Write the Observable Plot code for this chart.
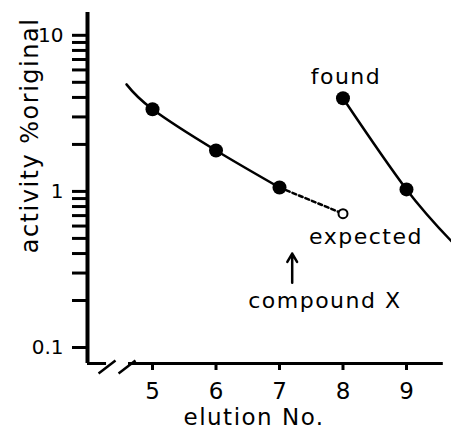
<!DOCTYPE html>
<html>
<head>
<meta charset="utf-8">
<script src="https://cdn.jsdelivr.net/npm/d3@7"></script>
<script src="https://cdn.jsdelivr.net/npm/@observablehq/plot@0.6"></script>
<style>
  html, body { margin: 0; padding: 0; background: #fff; }
  #chart svg { font-family: "DejaVu Sans", sans-serif; }
  #chart g[aria-label="text"] text { letter-spacing: 1.5px; }
</style>
</head>
<body>
<div id="chart"></div>
<script>
// Measured points (elution number vs activity, % original)
const elution = [5, 6, 7];
const activity = [3.36, 1.83, 1.06];
// Fitted curve through the early fractions
const fitLeftX = [4.59, 5, 6, 7];
const fitLeftY = [4.85, 3.36, 1.83, 1.06];
// "found" fractions
const foundX = [8, 9];
const foundY = [3.95, 1.03];
const fitRightX = [8, 9, 9.75];
const fitRightY = [3.95, 1.03, 0.46];
// "expected" point
const expectedX = [7, 8];
const expectedY = [1.06, 0.72];
// compound X marker
const compoundX = 7.2;
const compoundArrowY = [0.26, 0.40];
// tick values and labels
const xTicks = [5, 6, 7, 8, 9];
const yTicks = [0.1,0.2,0.3,0.4,0.5,0.6,0.7,0.8,0.9,1,2,3,4,5,6,7,8,9,10];
const yTickLabels = {0.1: "0.1", 1: "1", 10: "10"};
const xDomain = [3.976, 9.709];
const yDomain = [0.079, 14];
// axis break
const axisSegments = [{x1: 3.976, x2: 4.276}, {x1: 4.622, x2: 9.58}];
const breakSlashes = [
  {x1: 4.15, y1: 0.0681, x2: 4.417, y2: 0.0826},
  {x1: 4.465, y1: 0.0681, x2: 4.732, y2: 0.0826}
];

const zip = (xs, ys) => xs.map((x, i) => ({x, y: ys[i]}));

const chart = Plot.plot({
  width: 451,
  height: 430,
  marginLeft: 87,
  marginRight: 0,
  marginTop: 12,
  marginBottom: 67,
  x: {domain: xDomain},
  y: {type: "log", domain: yDomain},
  marks: [
    // axes lines
    Plot.ruleX([xDomain[0]], {y1: yDomain[0], y2: yDomain[1], strokeWidth: 4, stroke: "black"}),
    Plot.ruleY(axisSegments, {y: () => yDomain[0], x1: "x1", x2: "x2", strokeWidth: 3, stroke: "black"}),
    Plot.link(breakSlashes, {x1: "x1", y1: "y1", x2: "x2", y2: "y2", strokeWidth: 2.5, stroke: "black"}),
    Plot.axisY({ticks: yTicks, tickSize: 15, tickPadding: 9, strokeWidth: 3,
      tickFormat: d => yTickLabels[d] ?? "", fontSize: 20, label: null}),
    Plot.axisX({ticks: xTicks, tickSize: 7, tickPadding: 12, strokeWidth: 3,
      tickFormat: d => String(d), fontSize: 23, label: null}),
    // curves
    Plot.line(zip(fitLeftX, fitLeftY), {x: "x", y: "y", curve: "natural", strokeWidth: 2.5, stroke: "black"}),
    Plot.line(zip(fitRightX, fitRightY), {x: "x", y: "y", curve: "natural", strokeWidth: 2.5, stroke: "black"}),
    Plot.line(zip(expectedX, expectedY), {x: "x", y: "y", strokeWidth: 2.5, stroke: "black", strokeDasharray: "4,3"}),
    // points
    Plot.dot(zip(elution, activity), {x: "x", y: "y", r: 7, fill: "black"}),
    Plot.dot(zip(foundX, foundY), {x: "x", y: "y", r: 7, fill: "black"}),
    Plot.dot([{x: expectedX[1], y: expectedY[1]}], {x: "x", y: "y", r: 4.5, fill: "white", stroke: "black", strokeWidth: 2}),
    // arrow
    Plot.arrow([{x: compoundX, y1: compoundArrowY[0], y2: compoundArrowY[1]}],
      {x1: "x", x2: "x", y1: "y1", y2: "y2", strokeWidth: 2.5, headLength: 10, stroke: "black"}),
    // annotations
    Plot.text([{x: foundX[0], y: foundY[0]}], {x: "x", y: "y", text: () => "found", dx: 3, dy: -14,
      lineAnchor: "bottom", fontSize: 22, fill: "black"}),
    Plot.text([{x: expectedX[1], y: expectedY[1]}], {x: "x", y: "y", text: () => "expected", dx: 23, dy: 30,
      lineAnchor: "bottom", fontSize: 22, fill: "black"}),
    Plot.text([{x: compoundX, y: compoundArrowY[0]}], {x: "x", y: "y", text: () => "compound X", dx: -44, dy: 25,
      textAnchor: "start", lineAnchor: "bottom", fontSize: 22, fill: "black"}),
    // axis titles
    Plot.text(["elution No."], {frameAnchor: "bottom-left", dx: 96, dy: 61, textAnchor: "start",
      lineAnchor: "bottom", fontSize: 23, fill: "black"}),
    Plot.text(["activity %original"], {frameAnchor: "top-left", dx: -67, dy: 123, rotate: -90,
      textAnchor: "middle", fontSize: 24, fill: "black"})
  ]
});
document.getElementById("chart").appendChild(chart);
</script>
</body>
</html>
